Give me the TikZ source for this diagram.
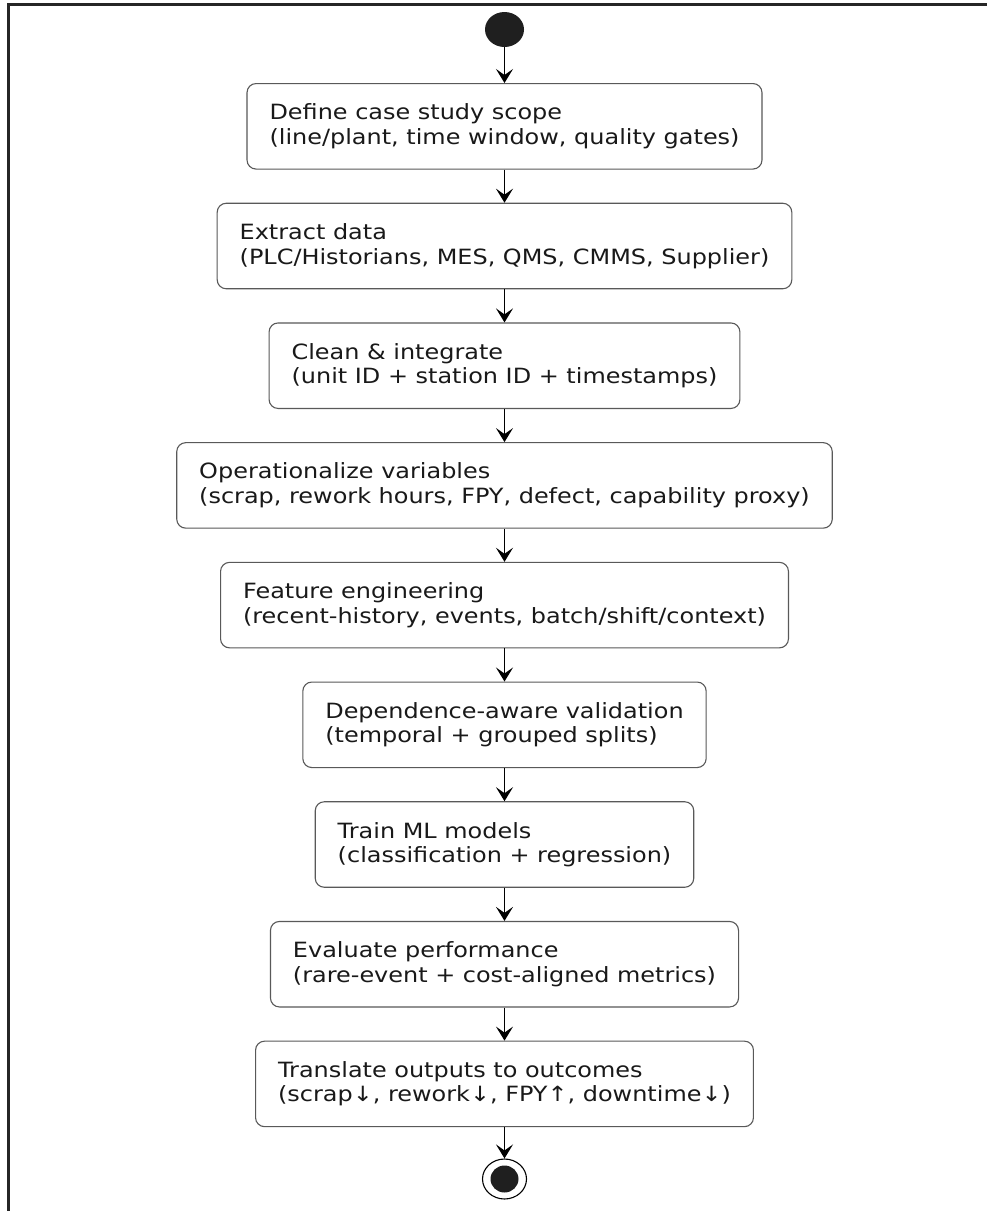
\documentclass[tikz,border=0pt]{standalone}
\usepackage{fontspec}
\usetikzlibrary{arrows.meta,shapes.geometric}
\newfontfamily\umlfont[FakeStretch=1.14]{DejaVu Sans}
\begin{document}
\begin{tikzpicture}[x=1pt,y=-1pt,
  stepbox/.style={draw=black!65, line width=1.1pt, rounded corners=9pt, fill=white,
    align=left, inner xsep=22.5pt, inner ysep=0pt, minimum height=85.5pt,
    font=\umlfont\fontsize{21}{24.5}\selectfont, text=black!90},
  flow/.style={line width=1.5pt, draw=black, -{Stealth[length=14pt,width=17pt,inset=6pt]}},
  startdot/.style={ellipse, fill=black!88, inner sep=0pt, minimum width=39pt, minimum height=35pt},
  endring/.style={ellipse, draw=black, line width=1.1pt, inner sep=0pt, minimum width=44pt, minimum height=40pt},
  enddot/.style={ellipse, fill=black!88, inner sep=0pt, minimum width=28pt, minimum height=27pt},
]
\useasboundingbox (0,0) rectangle (987,1211);
\fill[white] (0,0) rectangle (987,1211);
% outer frame (top and left edges)
\draw[black!85, line width=2.5pt] (8.7,1211) -- (8.7,4.5) -- (987,4.5);

% start marker
\node[startdot] (start) at (504.5,29.5) {};

% activity steps
\node[stepbox] (b1) at (504.5,126.3) {Define case study scope\\(line/plant, time window, quality gates)};
\node[stepbox] (b2) at (504.5,246.0) {Extract data\\(PLC/Historians, MES, QMS, CMMS, Supplier)};
\node[stepbox] (b3) at (504.5,365.7) {Clean \& integrate\\(unit ID + station ID + timestamps)};
\node[stepbox] (b4) at (504.5,485.4) {Operationalize variables\\(scrap, rework hours, FPY, defect, capability proxy)};
\node[stepbox] (b5) at (504.5,605.1) {Feature engineering\\(recent-history, events, batch/shift/context)};
\node[stepbox] (b6) at (504.5,724.8) {Dependence-aware validation\\(temporal + grouped splits)};
\node[stepbox] (b7) at (504.5,844.5) {Train ML models\\(classification + regression)};
\node[stepbox] (b8) at (504.5,964.2) {Evaluate performance\\(rare-event + cost-aligned metrics)};
\node[stepbox] (b9) at (504.5,1083.9) {Translate outputs to outcomes\\(scrap↓, rework↓, FPY↑, downtime↓)};

% end marker
\node[endring] (stop) at (504.5,1179) {};
\node[enddot] (stopdot) at (stop.center) {};

% control flow
\draw[flow] (start.south) -- (b1.north);
\draw[flow] (b1.south) -- (b2.north);
\draw[flow] (b2.south) -- (b3.north);
\draw[flow] (b3.south) -- (b4.north);
\draw[flow] (b4.south) -- (b5.north);
\draw[flow] (b5.south) -- (b6.north);
\draw[flow] (b6.south) -- (b7.north);
\draw[flow] (b7.south) -- (b8.north);
\draw[flow] (b8.south) -- (b9.north);
\draw[flow] (b9.south) -- (stop.north);
\end{tikzpicture}
\end{document}
